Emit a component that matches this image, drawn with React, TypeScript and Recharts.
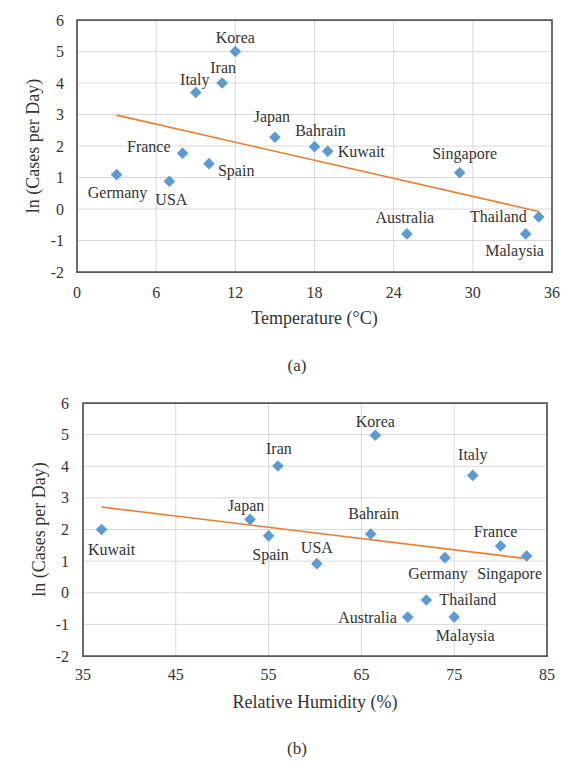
import {
  CartesianGrid,
  ReferenceArea,
  ReferenceLine,
  Scatter,
  ScatterChart,
  XAxis,
  YAxis,
} from 'recharts'

const SERIF = '"Liberation Serif", "Times New Roman", serif'
const TEXT = '#333333'
const BLUE = '#5B9BD5'
const ORANGE = '#ED7D31'

// (a) temperature
const TEMP_COUNTRIES = ['Korea', 'Iran', 'Italy', 'Japan', 'Bahrain', 'Kuwait', 'France', 'Spain', 'Germany', 'USA', 'Singapore', 'Australia', 'Thailand', 'Malaysia']
const TEMPERATURE = [12, 11, 9, 15, 18, 19, 8, 10, 3, 7, 29, 25, 35, 34]
const TEMP_CASES = [5.0, 4.0, 3.7, 2.28, 1.98, 1.83, 1.77, 1.44, 1.09, 0.88, 1.15, -0.79, -0.25, -0.79]
const TEMP_TREND_X = [3, 35]
const TEMP_TREND_Y = [2.98, -0.08]
const TEMP_TICKS = [0, 6, 12, 18, 24, 30, 36]

// (b) relative humidity
const HUM_COUNTRIES = ['Korea', 'Iran', 'Italy', 'Japan', 'Bahrain', 'Kuwait', 'France', 'Spain', 'Germany', 'USA', 'Singapore', 'Australia', 'Thailand', 'Malaysia']
const HUMIDITY = [66.5, 56, 77, 53, 66, 37, 80, 55, 74, 60.2, 82.8, 70, 72, 75]
const HUM_CASES = [4.98, 4.01, 3.71, 2.32, 1.86, 2.0, 1.48, 1.8, 1.11, 0.92, 1.16, -0.77, -0.23, -0.77]
const HUM_TREND_X = [37, 82.8]
const HUM_TREND_Y = [2.71, 1.08]
const HUM_TICKS = [35, 45, 55, 65, 75, 85]

const CASE_TICKS = [-2, -1, 0, 1, 2, 3, 4, 5, 6]

// label placement next to each marker: dx, dy, anchor
type Place = [number, number, 'start' | 'middle' | 'end']
const TEMP_LABELS: Record<string, Place> = {
  Korea: [0, -14, 'middle'],
  Iran: [1, -16, 'middle'],
  Italy: [-1, -13, 'middle'],
  Japan: [-3, -21, 'middle'],
  Bahrain: [6, -16, 'middle'],
  Kuwait: [10, 0, 'start'],
  France: [-12, -7, 'end'],
  Spain: [9, 7, 'start'],
  Germany: [1, 18, 'middle'],
  USA: [2, 18, 'middle'],
  Singapore: [5, -19, 'middle'],
  Australia: [-2, -16, 'middle'],
  Thailand: [-12, 0, 'end'],
  Malaysia: [-11, 17, 'middle'],
}
const HUM_LABELS: Record<string, Place> = {
  Korea: [0, -14, 'middle'],
  Iran: [1, -17, 'middle'],
  Italy: [0, -21, 'middle'],
  Japan: [-4, -14, 'middle'],
  Bahrain: [3, -20, 'middle'],
  Kuwait: [10, 20, 'middle'],
  France: [-5, -14, 'middle'],
  Spain: [2, 19, 'middle'],
  Germany: [-7, 16, 'middle'],
  USA: [0, -16, 'middle'],
  Singapore: [-17, 17, 'middle'],
  Australia: [-11, 0, 'end'],
  Thailand: [13, -1, 'start'],
  Malaysia: [11, 18, 'middle'],
}

const textStyle = { fontSize: 16, fontFamily: SERIF, fill: TEXT }

function makeShape(labels: Record<string, Place>) {
  return (props: any) => {
    const { cx, cy, payload } = props
    const [dx, dy, anchor] = labels[payload.name] ?? [0, -14, 'middle']
    const r = 5.8
    return (
      <g>
        <polygon
          points={`${cx},${cy - r} ${cx + r},${cy} ${cx},${cy + r} ${cx - r},${cy}`}
          fill={BLUE}
        />
        <text x={cx + dx} y={cy + dy} textAnchor={anchor} dominantBaseline="central" style={textStyle}>
          {payload.name}
        </text>
      </g>
    )
  }
}

function xTick(gap: number) {
  return (props: any) => (
    <text x={props.x} y={props.y + gap} textAnchor="middle" dominantBaseline="central" style={textStyle}>
      {props.payload.value}
    </text>
  )
}

function yTick(gap: number) {
  return (props: any) => (
    <text x={props.x - gap} y={props.y} textAnchor="end" dominantBaseline="central" style={textStyle}>
      {props.payload.value}
    </text>
  )
}

interface PanelProps {
  names: string[]
  xs: number[]
  ys: number[]
  trendX: number[]
  trendY: number[]
  xTicks: number[]
  xTitle: string
  labels: Record<string, Place>
  margin: { top: number; right: number; bottom: number; left: number }
  yGap: number
  xGap: number
}

function Panel(p: PanelProps) {
  const data = p.names.map((name, i) => ({ name, x: p.xs[i], y: p.ys[i] }))
  const x0 = p.xTicks[0]
  const x1 = p.xTicks[p.xTicks.length - 1]
  return (
    <ScatterChart width={584} height={340} margin={p.margin}>
      <CartesianGrid stroke="#d9d9d9" strokeWidth={1} />
      <XAxis
        type="number"
        dataKey="x"
        domain={[x0, x1]}
        ticks={p.xTicks}
        tickLine={false}
        axisLine={false}
        tick={xTick(p.xGap)}
        tickSize={0}
        tickMargin={0}
        height={56}
        label={{
          value: p.xTitle,
          position: 'insideBottom',
          offset: 4,
          style: { fontSize: 18, fontFamily: SERIF, fill: TEXT },
        }}
      />
      <YAxis
        type="number"
        dataKey="y"
        domain={[-2, 6]}
        ticks={CASE_TICKS}
        tickLine={false}
        axisLine={false}
        tick={yTick(p.yGap)}
        tickSize={0}
        tickMargin={0}
        width={50}
        label={{
          value: 'ln (Cases per Day)',
          angle: -90,
          position: 'insideLeft',
          offset: 6,
          style: { textAnchor: 'middle', fontSize: 18, fontFamily: SERIF, fill: TEXT },
        }}
      />
      <ReferenceArea
        x1={x0}
        x2={x1}
        y1={-2}
        y2={6}
        fill="none"
        fillOpacity={0}
        stroke="#595959"
        strokeWidth={1.75}
        ifOverflow="visible"
      />
      <ReferenceLine
        segment={[
          { x: p.trendX[0], y: p.trendY[0] },
          { x: p.trendX[1], y: p.trendY[1] },
        ]}
        stroke={ORANGE}
        strokeWidth={1.6}
        ifOverflow="visible"
      />
      <Scatter data={data} shape={makeShape(p.labels)} isAnimationActive={false} />
    </ScatterChart>
  )
}

const captionStyle: React.CSSProperties = {
  position: 'absolute',
  left: 0,
  width: 594,
  textAlign: 'center',
  fontFamily: SERIF,
  fontSize: 17,
  color: TEXT,
}

export default function App() {
  return (
    <div style={{ position: 'absolute', left: 0, top: 0, width: 584, height: 768, background: '#fff', fontFamily: SERIF }}>
      <div style={{ position: 'absolute', left: 0, top: 0 }}>
        <Panel
          names={TEMP_COUNTRIES}
          xs={TEMPERATURE}
          ys={TEMP_CASES}
          trendX={TEMP_TREND_X}
          trendY={TEMP_TREND_Y}
          xTicks={TEMP_TICKS}
          xTitle="Temperature (°C)"
          labels={TEMP_LABELS}
          margin={{ top: 20, right: 32, bottom: 12, left: 27 }}
          yGap={13}
          xGap={20}
        />
      </div>
      <div style={{ ...captionStyle, top: 356 }}>(a)</div>
      <div style={{ position: 'absolute', left: 0, top: 390 }}>
        <Panel
          names={HUM_COUNTRIES}
          xs={HUMIDITY}
          ys={HUM_CASES}
          trendX={HUM_TREND_X}
          trendY={HUM_TREND_Y}
          xTicks={HUM_TICKS}
          xTitle="Relative Humidity (%)"
          labels={HUM_LABELS}
          margin={{ top: 13, right: 37, bottom: 18, left: 33 }}
          yGap={14}
          xGap={18}
        />
      </div>
      <div style={{ ...captionStyle, top: 739 }}>(b)</div>
    </div>
  )
}
